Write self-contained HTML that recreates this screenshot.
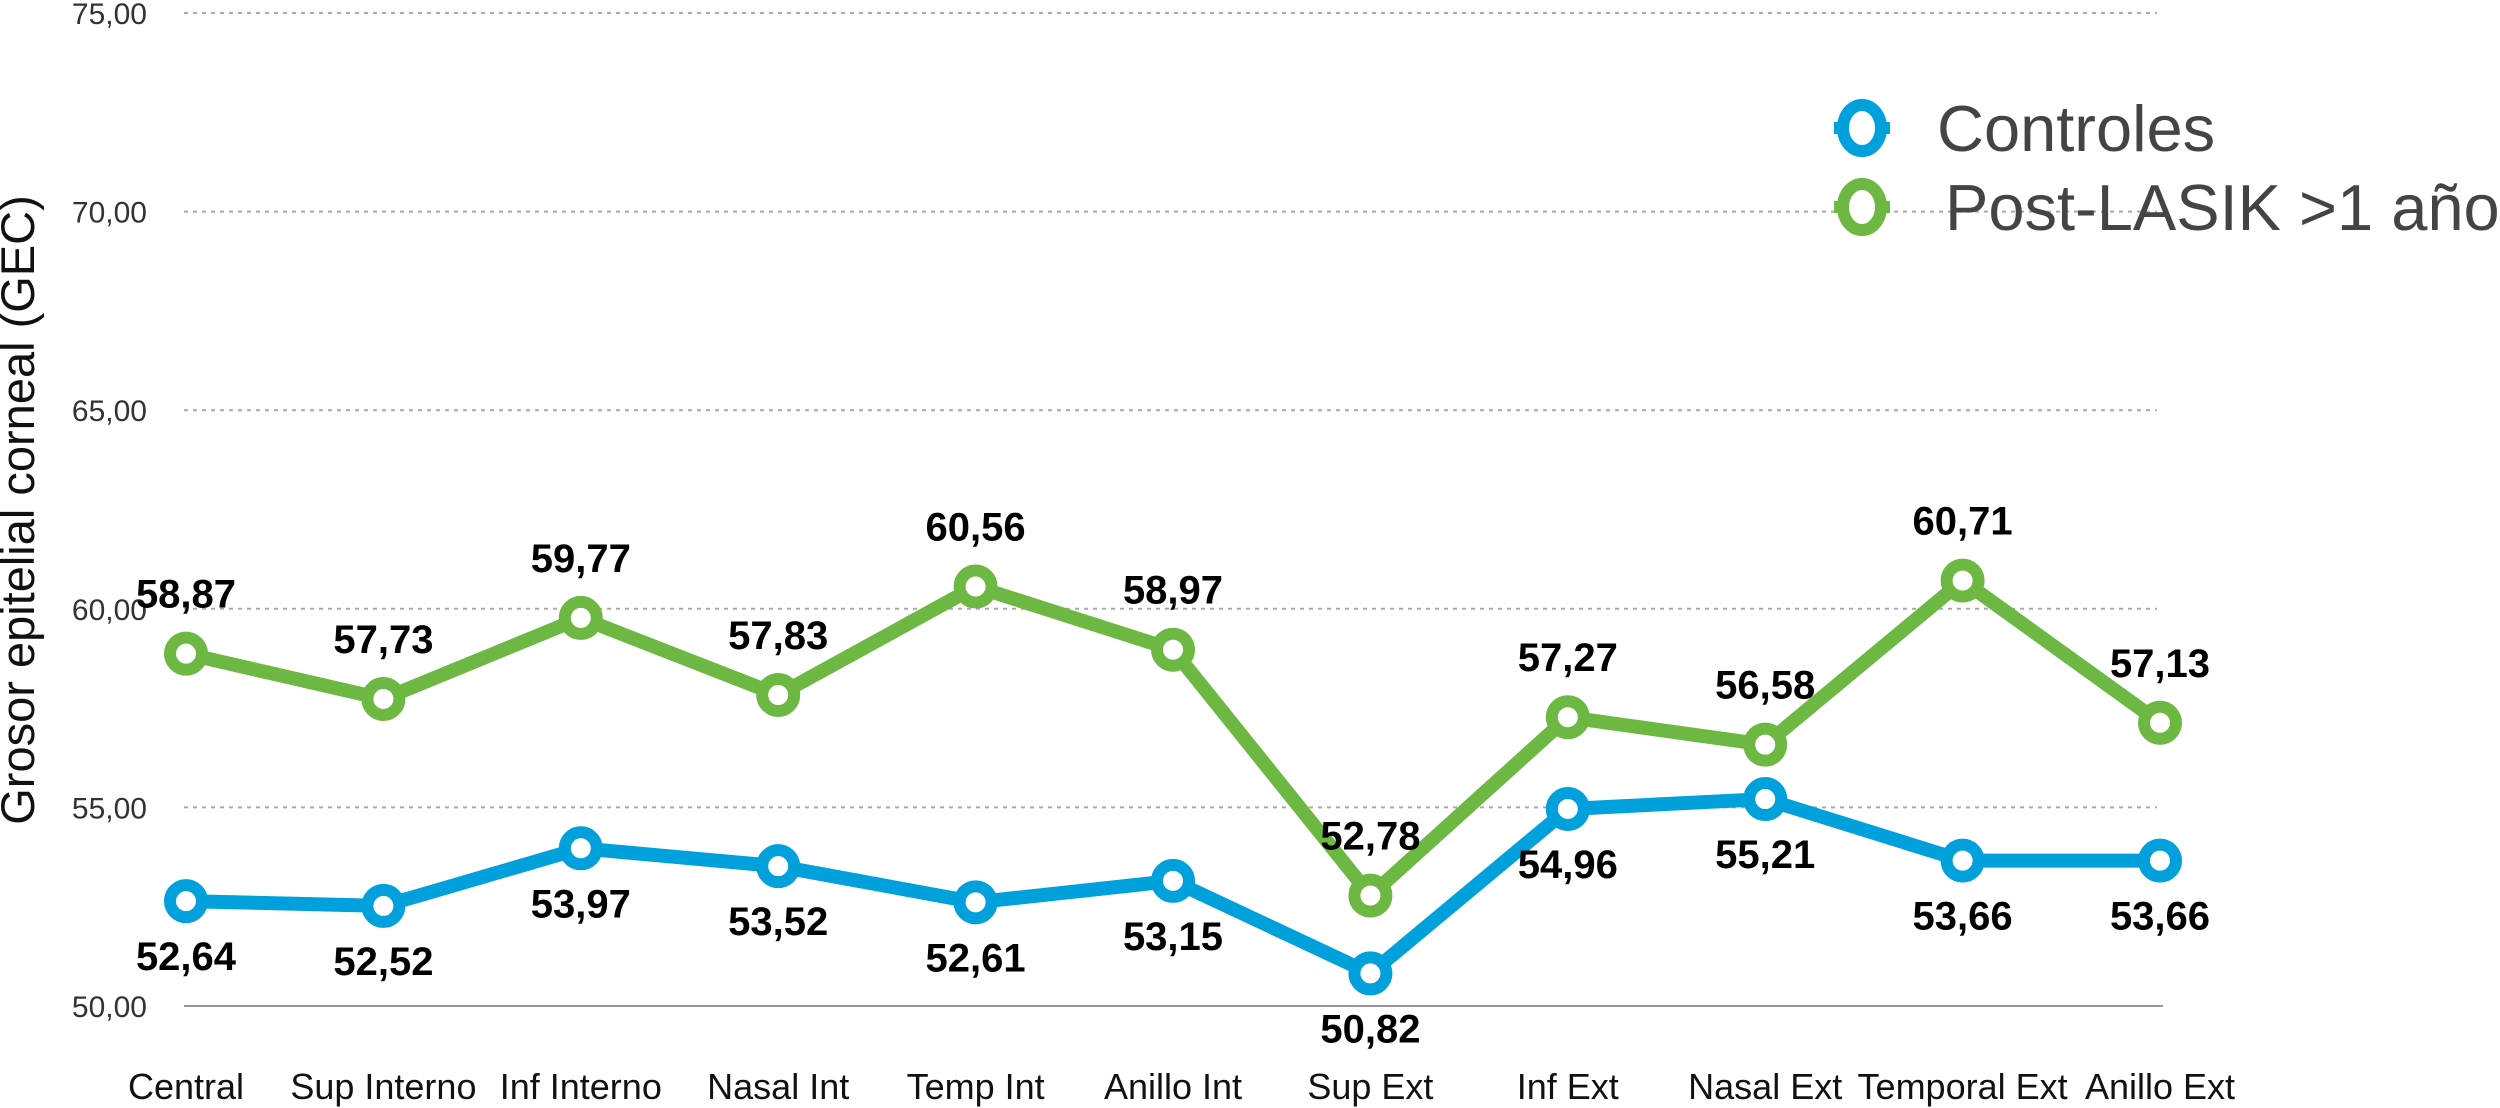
<!DOCTYPE html>
<html><head><meta charset="utf-8"><style>
html,body{margin:0;padding:0;background:#fff;}
svg{display:block;font-family:"Liberation Sans",Arial,sans-serif;}
</style></head><body>
<svg id="chart" width="2500" height="1108" viewBox="0 0 2500 1108">
<g id="grid"></g>
<g id="yticks"></g>
<g id="xticks"></g>
<text transform="translate(34,510) rotate(-90)" text-anchor="middle" font-size="47" fill="#111">Grosor epitelial corneal (GEC)</text>
<g id="series"></g>
<g>
 <g>
  <line x1="1834" y1="128" x2="1890" y2="128" stroke="#00a0dc" stroke-width="12"/>
  <ellipse cx="1862" cy="128" rx="19" ry="23" fill="#fff" stroke="#00a0dc" stroke-width="12"/>
  <text x="1937" y="151" font-size="65" fill="#444">Controles</text>
 </g>
 <g>
  <line x1="1834" y1="207" x2="1890" y2="207" stroke="#6cb842" stroke-width="12"/>
  <ellipse cx="1862" cy="207" rx="19" ry="23" fill="#fff" stroke="#6cb842" stroke-width="12"/>
  <text x="1945" y="230" font-size="65" fill="#444">Post-LASIK &gt;1 año</text>
 </g>
</g>
</svg>
<script>
const categories = ["Central","Sup Interno","Inf Interno","Nasal Int","Temp Int","Anillo Int","Sup Ext","Inf Ext","Nasal Ext","Temporal Ext","Anillo Ext"];
const controles = [52.64,52.52,53.97,53.52,52.61,53.15,50.82,54.96,55.21,53.66,53.66];
const postLasik = [58.87,57.73,59.77,57.83,60.56,58.97,52.78,57.27,56.58,60.71,57.13];
const yTicks = [50,55,60,65,70,75];

const NS = "http://www.w3.org/2000/svg";
const x0 = 186, x1 = 2160, yMin = 50, yMax = 75, yBot = 1006, yTop = 13;
function xs(i){ return x0 + (x1 - x0) * i / (categories.length - 1); }
function ys(v){ return yBot - (v - yMin) / (yMax - yMin) * (yBot - yTop); }
function fmt(v){ return v.toFixed(2).replace('.', ','); }
function mk(tag, attrs, parent){
  const e = document.createElementNS(NS, tag);
  for (const k in attrs) e.setAttribute(k, attrs[k]);
  parent.appendChild(e); return e;
}
const grid = document.getElementById('grid');
const yt = document.getElementById('yticks');
yTicks.forEach(v => {
  const y = ys(v);
  const l = mk('line', {x1:184, x2:(v===50?2163:2157), y1:y, y2:y, stroke:(v===50?'#999':'#aaa'), 'stroke-width':2, 'stroke-dasharray':(v===50?'none':'4 5')}, grid);
  
  
  const t = mk('text', {x:147, y:y+11, 'text-anchor':'end', 'font-size':30, fill:'#333'}, yt);
  t.textContent = fmt(v);
  
  
});
const xt = document.getElementById('xticks');
categories.forEach((c, i) => {
  const cx = Math.max(xs(i), 131);
  const t = mk('text', {x:cx, y:1099, 'text-anchor':'middle', 'font-size':36, fill:'#111'}, xt);
  t.textContent = c;
  
  
});
const sg = document.getElementById('series');
function drawSeries(vals, color, name, above){
  const g = mk('g', {}, sg);
  
  
  const pts = vals.map((v, i) => xs(i) + ',' + ys(v)).join(' ');
  const pl = mk('polyline', {points:pts, fill:'none', stroke:color, 'stroke-width':14, 'stroke-linejoin':'round'}, g);
  
  
  vals.forEach((v, i) => {
    const c = mk('circle', {cx:xs(i), cy:ys(v), r:16, fill:'#fff', stroke:color, 'stroke-width':12}, g);
    
    
    const t = mk('text', {x:xs(i), y:ys(v) + (above ? -46 : 69), 'text-anchor':'middle', 'font-size':40, 'font-weight':'bold', fill:'#000'}, g);
    t.textContent = fmt(v);
    
    
  });
}
drawSeries(postLasik, '#6cb842', 'post-lasik', true);
drawSeries(controles, '#00a0dc', 'controles', false);
</script>
</body></html>
